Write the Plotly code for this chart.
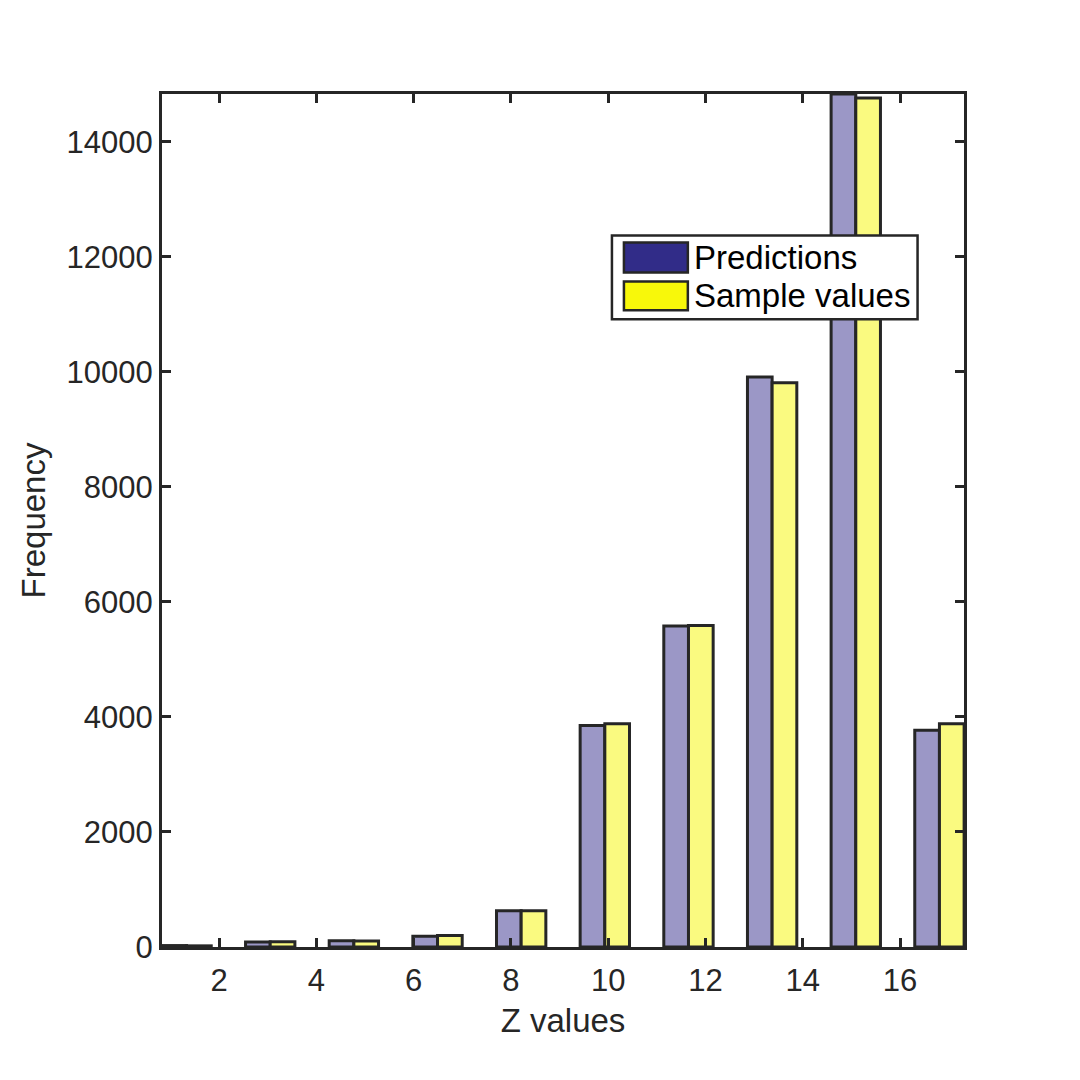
import plotly.graph_objects as go

# Data
z_centers = [1.33, 3.05, 4.77, 6.49, 8.21, 9.93, 11.65, 13.37, 15.09, 16.81]
predictions = [25, 85, 110, 185, 630, 3850, 5580, 9910, 14830, 3770]
sample_values = [20, 90, 105, 200, 630, 3880, 5590, 9810, 14760, 3880]
x_ticks = [2, 4, 6, 8, 10, 12, 14, 16]
y_ticks = [0, 2000, 4000, 6000, 8000, 10000, 12000, 14000]
series_names = ["Predictions", "Sample values"]

EDGE = "#262626"
FONT = "Arial, Liberation Sans, Helvetica, sans-serif"

fig = go.Figure()
fig.add_trace(go.Bar(x=z_centers, y=predictions, name=series_names[0],
                     marker=dict(color="#9B97C6", line=dict(color=EDGE, width=3)),
                     showlegend=False))
fig.add_trace(go.Bar(x=z_centers, y=sample_values, name=series_names[1],
                     marker=dict(color="#FAFA80", line=dict(color=EDGE, width=3)),
                     showlegend=False))

L, R, T, B = 161.5, 964.5, 93.5, 947
W = R - L
H = B - T


def px(xp):
    return (xp - L) / W


def py(yp):
    return (B - yp) / H


shapes = []
annotations = []
# Legend box
shapes.append(dict(type="rect", xref="paper", yref="paper",
                   x0=px(612), x1=px(918), y0=py(319), y1=py(235),
                   line=dict(color=EDGE, width=2.5), fillcolor="white", layer="above"))
legend_cols = ["#312C88", "#F8F80A"]
rows = [(242, 272), (281, 310)]
for name, col, (y0, y1) in zip(series_names, legend_cols, rows):
    shapes.append(dict(type="rect", xref="paper", yref="paper",
                       x0=px(624), x1=px(688), y0=py(y1), y1=py(y0),
                       line=dict(color=EDGE, width=2.5), fillcolor=col, layer="above"))
    annotations.append(dict(xref="paper", yref="paper", x=px(692), y=py((y0 + y1) / 2),
                            text=name, showarrow=False, xanchor="left", yanchor="middle",
                            font=dict(family=FONT, size=33, color="black")))

fig.update_layout(
    width=1080, height=1080,
    margin=dict(l=L, r=1080 - R, t=T, b=1080 - B, pad=0),
    paper_bgcolor="white", plot_bgcolor="white",
    barmode="group", bargap=0.41, bargroupgap=0,
    font=dict(family=FONT, color=EDGE),
    shapes=shapes, annotations=annotations,
    showlegend=False,
)
fig.update_xaxes(range=[0.825, 17.315], tickvals=x_ticks, ticks="inside", ticklen=9,
                 tickwidth=2.5, tickcolor=EDGE, showline=True, linecolor=EDGE,
                 linewidth=3, mirror="ticks", showgrid=False, zeroline=False,
                 tickfont=dict(size=31, color=EDGE), ticklabelstandoff=4,
                 title=dict(text="Z values", font=dict(size=33, color=EDGE), standoff=12))
fig.update_yaxes(range=[0, 14830], tickvals=y_ticks, tickformat="d", ticks="inside", ticklen=9,
                 tickwidth=2.5, tickcolor=EDGE, showline=True, linecolor=EDGE,
                 linewidth=3, mirror="ticks", showgrid=False, zeroline=False,
                 tickfont=dict(size=31, color=EDGE),
                 title=dict(text="Frequency", font=dict(size=33, color=EDGE), standoff=12))

fig.write_html("out.html")
